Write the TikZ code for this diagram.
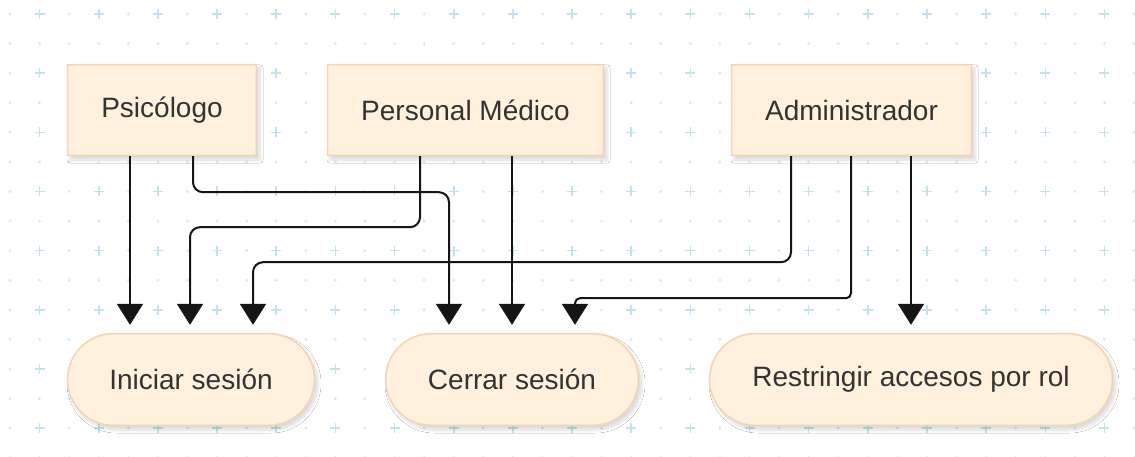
\documentclass[tikz,border=0pt]{standalone}
\usepackage{fontspec}
\setmainfont{Liberation Sans}
\usetikzlibrary{arrows.meta,calc,shadows.blur}

\definecolor{boxfill}{HTML}{FFF1DE}
\definecolor{boxpeach}{HTML}{F2D6B3}
\definecolor{boxlav}{HTML}{D9B3E6}
\definecolor{gridplus}{HTML}{C4E2EB}
\definecolor{griddot}{HTML}{D3EBF1}
\definecolor{textgray}{HTML}{333333}
\definecolor{edgeblack}{HTML}{151515}

\pgfdeclarehorizontalshading{ringshade}{100bp}{color(0bp)=(boxpeach); color(72bp)=(boxpeach); color(100bp)=(boxlav)}

% gradient outline drawn over a node: #1 name, #2 outer radius, #3 inner radius
\newcommand\boxring[3]{%
  \shade[shading=ringshade, even odd rule]
    [rounded corners=#2] (#1.south west) rectangle (#1.north east)
    [rounded corners=#3] ($(#1.south west)+(1.6,-1.6)$) rectangle ($(#1.north east)+(-1.6,1.6)$);
}

\tikzset{
  shadowed/.style={blur shadow={shadow xshift=3pt, shadow yshift=-4pt,
      shadow blur steps=8, shadow blur radius=3pt, shadow opacity=14}},
  actor/.style={shape=rectangle, fill=boxfill, shadowed, text=textgray,
      minimum height=92pt, inner sep=0pt,
      font=\fontsize{28}{34}\selectfont},
  usecase/.style={shape=rectangle, rounded corners=46.5pt, fill=boxfill, shadowed,
      text=textgray, minimum height=93pt, inner sep=0pt,
      font=\fontsize{28}{34}\selectfont},
  edge/.style={draw=edgeblack, line width=2pt, rounded corners=10pt,
      -{Triangle[width=26pt,length=21pt]}},
}

\begin{document}
\begin{tikzpicture}[x=1pt, y=-1pt]
  \useasboundingbox (0,0) rectangle (1135,457);
  \fill[white] (0,0) rectangle (1135,457);

  % dotted canvas grid with crosses on every other point
  \foreach \i in {0,...,38} {
    \foreach \j in {0,...,15} {
      \pgfmathsetmacro\gx{10+29.58*\i}
      \pgfmathsetmacro\gy{14+29.58*\j}
      \pgfmathtruncatemacro\isplus{(mod(\i,2)==1) && (mod(\j,2)==0)}
      \ifnum\isplus=1
        \draw[gridplus, line width=1.6pt] (\gx-5,\gy) -- (\gx+5,\gy) (\gx,\gy-5) -- (\gx,\gy+5);
      \else
        \fill[griddot] (\gx,\gy) circle (1.6);
      \fi
    }
  }

  % actors
  \node[actor, minimum width=190pt] (psi) at (162,110) {Psicólogo};
  \node[actor, minimum width=277pt] (pm)  at (465.5,110) {Personal Médico};
  \node[actor, minimum width=241pt] (adm) at (851.5,110) {Administrador};

  % use cases
  \node[usecase, minimum width=248pt] (ini) at (191,379.5) {Iniciar sesión};
  \node[usecase, minimum width=254pt] (cer) at (512,379.5) {Cerrar sesión};
  \node[usecase, minimum width=404pt] (res) at (911,379.5) {Restringir accesos por rol};

  \boxring{psi}{0pt}{0pt}
  \boxring{pm}{0pt}{0pt}
  \boxring{adm}{0pt}{0pt}
  \boxring{ini}{46.5pt}{44.9pt}
  \boxring{cer}{46.5pt}{44.9pt}
  \boxring{res}{46.5pt}{44.9pt}

  % connectors
  \draw[edge] ($(psi.south)+(-32,0)$) -- ($(ini.north)+(-61,-8)$);
  \draw[edge] ($(psi.south)+(31,0)$) -- ++(0,36) -| ($(cer.north)+(-63,-8)$);
  \draw[edge] ($(pm.south)+(-45.5,0)$) -- ++(0,71) -| ($(ini.north)+(-1,-8)$);
  \draw[edge] ($(pm.south)+(46.5,0)$) -- ($(cer.north)+(0,-8)$);
  \draw[edge] ($(adm.south)+(-60.5,0)$) -- ++(0,106) -| ($(ini.north)+(62,-8)$);
  \draw[edge, rounded corners=5pt] ($(adm.south)+(-0.5,0)$) -- ++(0,142) -| ($(cer.north)+(63,-8)$);
  \draw[edge] ($(adm.south)+(59.5,0)$) -- ($(res.north)+(0,-8)$);
\end{tikzpicture}
\end{document}
